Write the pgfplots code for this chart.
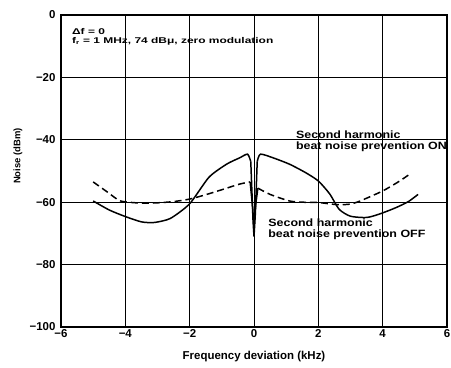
\documentclass[border=0pt]{standalone}
\usepackage{pgfplots}
\pgfplotsset{compat=1.18}
\usepackage{fontspec}
\setmainfont{Liberation Sans}

\begin{document}
\begin{tikzpicture}
\begin{axis}[
  name=ax,
  scale only axis,
  width=386bp, height=312bp,
  xmin=-6, xmax=6, ymin=-100, ymax=0,
  xtick={-6,-4,...,6}, ytick={-100,-80,...,0},
  xticklabels={−6,−4,−2,0,2,4,6},
  yticklabels={−100,−80,−60,−40,−20,0},
  grid=major,
  major grid style={black, line width=0.9pt},
  major tick length=0pt,
  axis line style={line width=1.4pt},
  tick label style={font=\fontsize{11.5}{11.5}\selectfont\bfseries},
  xticklabel style={yshift=1pt},
  yticklabel style={xshift=-2pt},
  xlabel={Frequency deviation (kHz)},
  ylabel={Noise (dBm)},
  xlabel style={font=\fontsize{11.5}{11.5}\selectfont\bfseries,
    at={(axis description cs:0.5,-0.096)}, anchor=center},
  ylabel style={font=\fontsize{9.5}{9.5}\selectfont\bfseries,
    at={(axis description cs:-0.1114,0.548)}, anchor=center},
]
% second harmonic beat noise prevention ON (solid)
\addplot[black, line width=1.5pt, smooth, tension=0.4] coordinates {
  (-5.0,-59.6) (-4.5,-62.5) (-4.0,-64.6) (-3.5,-66.3) (-3.1,-66.5)
  (-2.6,-65.2) (-2.0,-60.5) (-1.4,-52.0) (-0.85,-47.8) (-0.45,-45.8)
  (-0.2,-44.6) (-0.1,-47)
};
\addplot[black, line width=1.5pt] coordinates {
  (-0.1,-47) (-0.03,-66) (0.0,-71) (0.04,-64) (0.1,-47)
};
\addplot[black, line width=1.5pt, smooth, tension=0.4] coordinates {
  (0.1,-47) (0.2,-44.6) (0.6,-45.8) (1.1,-47.8) (1.6,-50.5)
  (2.0,-53.2) (2.35,-57.3) (2.65,-62.3) (3.0,-64.5) (3.5,-64.9)
  (3.9,-63.8) (4.4,-61.8) (4.8,-59.8) (5.1,-57.5)
};
% second harmonic beat noise prevention OFF (dashed)
\addplot[black, line width=1.5pt, dash pattern=on 7pt off 4pt, smooth, tension=0.4] coordinates {
  (-5.0,-53.5) (-4.55,-56.8) (-4.15,-59.6) (-3.5,-60.3) (-3.0,-60.2)
  (-2.5,-59.8) (-2.0,-59.0) (-1.5,-57.6) (-1.0,-56.0) (-0.45,-54.2)
  (-0.12,-53.5)
};
\addplot[black, line width=1.5pt] coordinates {
  (-0.12,-53.5) (-0.04,-62) (0.0,-68) (0.05,-61) (0.12,-55.5)
};
\addplot[black, line width=1.5pt, dash pattern=on 7pt off 4pt, smooth, tension=0.4] coordinates {
  (0.12,-55.5) (0.5,-57.5) (1.1,-59.6) (1.5,-60.0) (2.0,-60.1)
  (2.6,-60.8) (3.0,-60.6) (3.3,-59.6) (4.0,-56.4) (4.5,-53.4) (4.8,-51.3)
};
\node[anchor=north west, inner sep=0pt]
  at (axis cs:-5.66,-4.3) {\scalebox{1}[0.7]{\fontsize{12}{12}\selectfont\bfseries
  \begin{tabular}{@{}l@{}}Δf = 0\\f\textsubscript{r} = 1 MHz, 74 dBμ, zero modulation\end{tabular}}};
\node[anchor=north west, inner sep=0pt]
  at (axis cs:1.3,-37.2) {\scalebox{1}[0.85]{\fontsize{12.5}{13}\selectfont\bfseries
  \begin{tabular}{@{}l@{}}Second harmonic\\beat noise prevention ON\end{tabular}}};
\node[anchor=north west, inner sep=0pt]
  at (axis cs:0.44,-65.4) {\scalebox{1}[0.85]{\fontsize{12.5}{13}\selectfont\bfseries
  \begin{tabular}{@{}l@{}}Second harmonic\\beat noise prevention OFF\end{tabular}}};
\end{axis}
\pgfresetboundingbox
\path[use as bounding box] ([shift={(-61bp,-41bp)}]ax.south west) rectangle ([shift={(4bp,15bp)}]ax.north east);
\end{tikzpicture}
\end{document}
